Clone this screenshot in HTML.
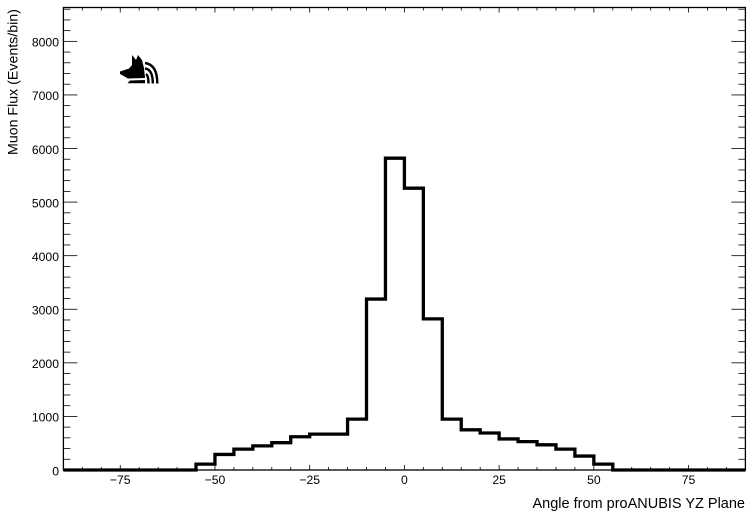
<!DOCTYPE html>
<html lang="en">
<head>
<meta charset="utf-8">
<title>Muon Flux Histogram</title>
<style>
html,body{margin:0;padding:0;background:#fff;}
body{width:752px;height:518px;overflow:hidden;}
svg{display:block;font-family:"Liberation Sans",Arial,sans-serif;}
</style>
</head>
<body>
<svg id="chart" width="752" height="518" viewBox="0 0 752 518" xmlns="http://www.w3.org/2000/svg">
  <rect x="0" y="0" width="752" height="518" fill="#fff"/>
  <g id="ticks"></g>
  <g id="labels"></g>
  <path id="hist" fill="none" stroke="#000" stroke-width="3.3" stroke-linejoin="miter" stroke-linecap="butt"/>
  <rect x="63.4" y="7.5" width="682" height="462.5" fill="none" stroke="#000" stroke-width="1.3"/>
  <text x="745" y="508" text-anchor="end" font-size="14.5" fill="#000">Angle from proANUBIS YZ Plane</text>
  <text transform="translate(17.5,155) rotate(-90)" x="0" y="0" text-anchor="start" font-size="14.2" fill="#000">Muon Flux (Events/bin)</text>
  <g transform="translate(100,40)">
    <path fill="#000" d="M20 31.5 L29 28.5 L32 25 L32 15 L36 20 L38 15 L42 20 L44 28 L45 38 L28 38.5 L20 34 Z"/>
    <path fill="#000" d="M30 40.5 L45 40 L45 43.3 L27.5 43.3 Z"/>
    <g fill="none" stroke="#000" stroke-width="2.4">
      <path d="M45 23 C53 24 57.3 31 57.3 43.5"/>
      <path d="M45 28.5 C50 29 52.8 34 52.8 43.5"/>
      <path d="M46 34 C47.5 35 48.5 38 48.5 43.5"/>
    </g>
  </g>
</svg>
<script>
// Histogram data
const binEdgeStart = -90;
const binWidth = 5;
const binCounts = [0,0,0,0,0,0,0,110,290,390,450,510,620,670,670,950,3190,5820,5260,2820,950,750,690,580,530,470,390,260,110,0,0,0,0,0,0,0];
const xTickLabels = [-75,-50,-25,0,25,50,75];
const yTickLabels = [0,1000,2000,3000,4000,5000,6000,7000,8000];
const xMinorTicks = [-85,-80,-75,-70,-65,-60,-55,-50,-45,-40,-35,-30,-25,-20,-15,-10,-5,0,5,10,15,20,25,30,35,40,45,50,55,60,65,70,75,80,85];
const yMinorTicks = [200,400,600,800,1000,1200,1400,1600,1800,2000,2200,2400,2600,2800,3000,3200,3400,3600,3800,4000,4200,4400,4600,4800,5000,5200,5400,5600,5800,6000,6200,6400,6600,6800,7000,7200,7400,7600,7800,8000,8200,8400,8600];

const NS = 'http://www.w3.org/2000/svg';
const plot = {left:63.4,right:745.4,top:7.5,bottom:470};
const xDomain = [-90,90];
const pxPerThousand = 53.58;
function xScale(v){return plot.left+(v-xDomain[0])/(xDomain[1]-xDomain[0])*(plot.right-plot.left);}
function yScale(v){return plot.bottom-v*pxPerThousand/1000;}

function drawTick(x1,y1,x2,y2){
  const t=document.createElementNS(NS,'line');
  
  
  t.setAttribute('x1',x1);t.setAttribute('y1',y1);
  t.setAttribute('x2',x2);t.setAttribute('y2',y2);
  t.setAttribute('stroke','#000');
  t.setAttribute('stroke-width','0.8');
  document.getElementById('ticks').appendChild(t);
}
function drawLabel(x,y,text,anchor){
  const l=document.createElementNS(NS,'text');
  
  
  l.setAttribute('x',x);l.setAttribute('y',y);
  l.setAttribute('text-anchor',anchor);
  l.setAttribute('font-size','12.2');
  l.setAttribute('fill','#000');
  l.textContent=text;
  document.getElementById('labels').appendChild(l);
}

xMinorTicks.forEach(function(v){
  const major=xTickLabels.indexOf(v)>=0;
  const len=major?5:3;
  const x=xScale(v);
  drawTick(x,plot.bottom,x,plot.bottom-len);
  drawTick(x,plot.top,x,plot.top+len);
});
yMinorTicks.forEach(function(v){
  const major=yTickLabels.indexOf(v)>=0;
  const len=major?14:7;
  const y=yScale(v);
  drawTick(plot.left,y,plot.left+len,y);
  drawTick(plot.right,y,plot.right-len,y);
});
xTickLabels.forEach(function(v){
  drawLabel(xScale(v),484,String(v).replace('-','\u2212'),'middle');
});
yTickLabels.forEach(function(v){
  drawLabel(59,yScale(v)+5.3,String(v),'end');
});

let d='M'+xScale(binEdgeStart)+' '+yScale(binCounts[0]);
binCounts.forEach(function(c,i){
  const x0=binEdgeStart+i*binWidth;
  d+=' L'+xScale(x0)+' '+yScale(c)+' L'+xScale(x0+binWidth)+' '+yScale(c);
});
document.getElementById('hist').setAttribute('d',d);
</script>
</body>
</html>
